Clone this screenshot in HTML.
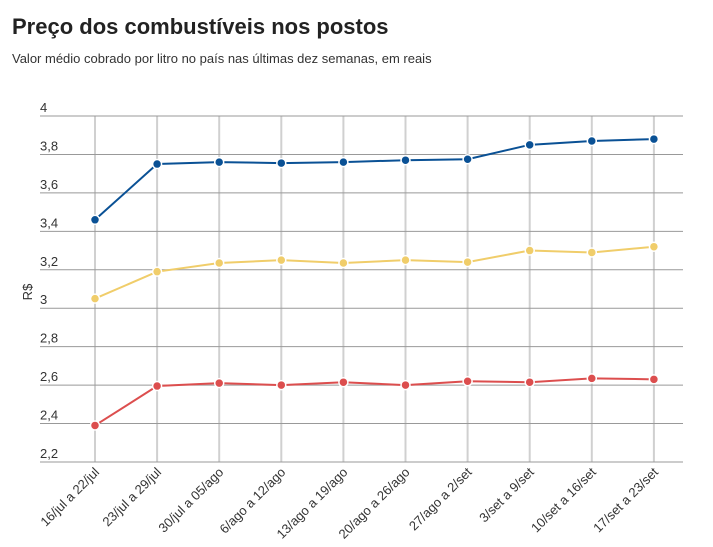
<!DOCTYPE html><html><head><meta charset="utf-8"><style>body{margin:0;background:#fff;width:713px;height:542px;overflow:hidden;font-family:"Liberation Sans",sans-serif}</style></head><body>
<svg width="713" height="542" xmlns="http://www.w3.org/2000/svg" font-family="Liberation Sans, sans-serif">
<text x="12" y="34" font-size="22" font-weight="bold" fill="#222">Preço dos combustíveis nos postos</text>
<text x="12" y="63" font-size="13" fill="#333">Valor médio cobrado por litro no país nas últimas dez semanas, em reais</text>
<text transform="translate(32,292) rotate(-90)" font-size="13" fill="#333" text-anchor="middle">R$</text>
<g id="g"></g>
</svg>
<script>
const s=document.querySelector('svg'),g=document.getElementById('g');
const Y=v=>116+(4-v)/0.2*38.44, X=i=>95+i*62.1;
let h='';
for(let i=0;i<10;i++)h+=`<line x1="${X(i)}" x2="${X(i)}" y1="116" y2="462" stroke="#d0d0d0" stroke-width="2"/>`;
[4,3.8,3.6,3.4,3.2,3,2.8,2.6,2.4,2.2].forEach(v=>{h+=`<line x1="40" x2="683" y1="${Y(v)}" y2="${Y(v)}" stroke="#999" stroke-width="1"/><text x="40" y="${Y(v)-4}" font-size="13" fill="#333">${String(v).replace('.',',')}</text>`});
const L=["16/jul a 22/jul","23/jul a 29/jul","30/jul a 05/ago","6/ago a 12/ago","13/ago a 19/ago","20/ago a 26/ago","27/ago a 2/set","3/set a 9/set","10/set a 16/set","17/set a 23/set"];
L.forEach((t,i)=>h+=`<text transform="translate(${X(i)+5},${473}) rotate(-45)" text-anchor="end" font-size="13" fill="#333">${t}</text>`);
const D=[["#0a5195",[3.46,3.75,3.76,3.755,3.76,3.77,3.775,3.85,3.87,3.88]],["#f0cd6a",[3.05,3.19,3.235,3.25,3.235,3.25,3.24,3.30,3.29,3.32]],["#dc4e4e",[2.39,2.595,2.61,2.60,2.615,2.60,2.62,2.615,2.635,2.63]]];
D.forEach(([c,d])=>{h+=`<polyline fill="none" stroke="${c}" stroke-width="2" points="${d.map((v,i)=>X(i)+','+Y(v)).join(' ')}"/>`;d.forEach((v,i)=>h+=`<circle cx="${X(i)}" cy="${Y(v)}" r="4.5" fill="${c}" stroke="#fff" stroke-width="1.5"/>`)});
g.innerHTML=h;
</script></body></html>
